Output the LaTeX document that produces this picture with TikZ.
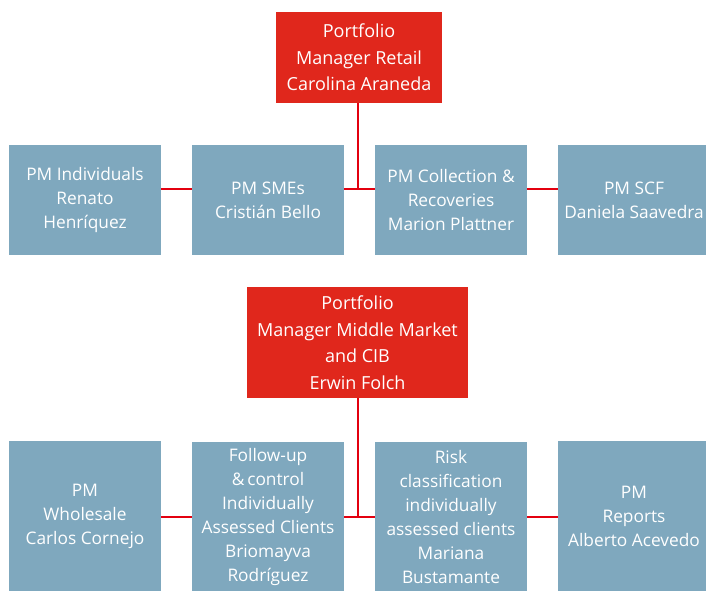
\documentclass[tikz,border=0pt]{standalone}
\usepackage{fontspec}
\setmainfont{Open Sans}
\definecolor{boxred}{HTML}{E0271C}
\definecolor{linered}{HTML}{E3000F}
\definecolor{boxblue}{HTML}{7FA8BE}
\begin{document}
\begin{tikzpicture}[x=1pt,y=-1pt,
  bluebox/.style={fill=boxblue,text=white,align=center,inner sep=0pt,
    minimum width=152pt,minimum height=#1,font=\fontsize{17.3}{24}\selectfont},
  redbox/.style={fill=boxred,text=white,align=center,inner sep=0pt,
    font=\fontsize{18}{26.5}\selectfont},
  conn/.style={draw=linered,line width=2pt}]
\clip (0,0) rectangle (706,590);
\fill[white] (0,0) rectangle (706,590);
% top group
\node[redbox,minimum width=166pt,minimum height=91pt] (t1) at (359,57.5)
  {Portfolio\\Manager Retail\\Carolina Araneda};
\node[bluebox=110pt] (a1) at (85,200) {PM Individuals\\Renato\\Henríquez};
\node[bluebox=110pt] (a2) at (268,200) {PM SMEs\\Cristián Bello};
\node[bluebox=110pt] (a3) at (451,200) {PM Collection \&\\Recoveries\\Marion Plattner};
\node[bluebox=110pt] (a4) at (634,200) {PM SCF\\Daniela Saavedra};
\coordinate (j1) at (358,189);
\draw[conn] (t1.south -| j1) -- (j1);
\draw[conn] (a1.east |- j1) -- (a2.west |- j1);
\draw[conn] (a2.east |- j1) -- (a3.west |- j1);
\draw[conn] (a3.east |- j1) -- (a4.west |- j1);
% bottom group
\node[redbox,minimum width=221pt,minimum height=111pt] (t2) at (357.5,342.5)
  {Portfolio\\Manager Middle Market\\and CIB\\Erwin Folch};
\node[bluebox=150pt] (b1) at (85,516) {PM\\Wholesale\\Carlos Cornejo};
\node[bluebox=150pt] (b2) at (268,517) {Follow-up\\\&\,control\\Individually\\Assessed Clients\\Briomayva\\Rodríguez};
\node[bluebox=150pt] (b3) at (451,517) {Risk\\classification\\individually\\assessed clients\\Mariana\\Bustamante};
\node[bluebox=150pt] (b4) at (634,516) {PM\\Reports\\Alberto Acevedo};
\coordinate (j2) at (358,517);
\draw[conn] (t2.south -| j2) -- (j2);
\draw[conn] (b1.east |- j2) -- (b2.west |- j2);
\draw[conn] (b2.east |- j2) -- (b3.west |- j2);
\draw[conn] (b3.east |- j2) -- (b4.west |- j2);
\end{tikzpicture}
\end{document}
